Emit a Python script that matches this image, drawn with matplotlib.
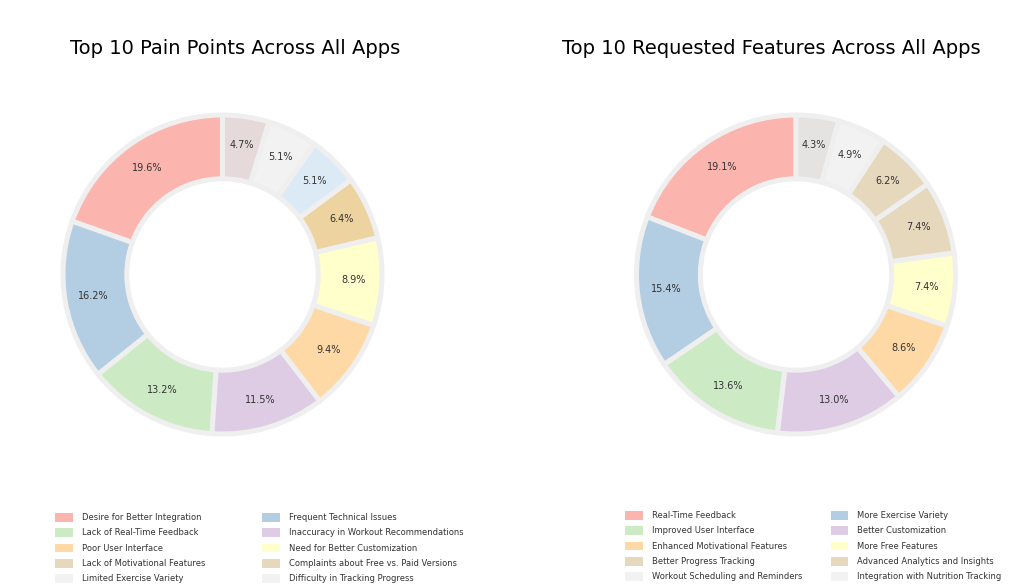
import matplotlib
matplotlib.use("Agg")
import matplotlib.pyplot as plt
from matplotlib.patches import Patch

pain_labels = ['Desire for Better Integration', 'Frequent Technical Issues',
               'Lack of Real-Time Feedback', 'Inaccuracy in Workout Recommendations',
               'Poor User Interface', 'Need for Better Customization',
               'Lack of Motivational Features', 'Complaints about Free vs. Paid Versions',
               'Limited Exercise Variety', 'Difficulty in Tracking Progress']
pain_values = [19.6, 16.2, 13.2, 11.5, 9.4, 8.9, 6.4, 5.1, 5.1, 4.7]
pain_slice_colors = ['#fbb4ae', '#b3cde3', '#ccebc5', '#decbe4', '#fed9a6',
                     '#ffffcc', '#edd3a0', '#dceaf6', '#f2f2f2', '#e6d9d9']

feat_labels = ['Real-Time Feedback', 'More Exercise Variety',
               'Improved User Interface', 'Better Customization',
               'Enhanced Motivational Features', 'More Free Features',
               'Better Progress Tracking', 'Advanced Analytics and Insights',
               'Workout Scheduling and Reminders', 'Integration with Nutrition Tracking']
feat_values = [19.1, 15.4, 13.6, 13.0, 8.6, 7.4, 7.4, 6.2, 4.9, 4.3]
feat_slice_colors = ['#fbb4ae', '#b3cde3', '#ccebc5', '#decbe4', '#fed9a6',
                     '#ffffcc', '#e5d8bd', '#e5d8bd', '#f2f2f2', '#e5e2e2']

legend_colors = ['#fbb4ae', '#b3cde3', '#ccebc5', '#decbe4', '#fed9a6',
                 '#ffffcc', '#e5d8bd', '#e5d8bd', '#f2f2f2', '#f2f2f2']

W, H = 1028, 587
fig = plt.figure(figsize=(W / 100, H / 100), dpi=100)

R = 159.5   # px per unit radius
LIM = 1.1


def pie_axes(cx, cy):
    half = R * LIM
    return fig.add_axes([(cx - half) / W, (H - cy - half) / H, 2 * half / W, 2 * half / H])


def draw(ax, values, colors):
    ax.pie(
        values, colors=colors, startangle=90, counterclock=True,
        autopct='%1.1f%%', pctdistance=0.82, radius=1.0,
        wedgeprops=dict(width=0.4, edgecolor='#efefef', linewidth=3.6, joinstyle='round'),
        textprops=dict(fontsize=7, color='#333333'))
    ax.set_xlim(-LIM, LIM)
    ax.set_ylim(-LIM, LIM)
    ax.set_aspect('equal')
    ax.axis('off')


ax1 = pie_axes(222.5, 274.5)
draw(ax1, pain_values, pain_slice_colors)
ax2 = pie_axes(796, 274.5)
draw(ax2, feat_values, feat_slice_colors)

fig.text(235 / W, 1 - 48 / H, 'Top 10 Pain Points Across All Apps', fontsize=14,
         ha='center', va='center')
fig.text(771 / W, 1 - 48 / H, 'Top 10 Requested Features Across All Apps', fontsize=14,
         ha='center', va='center')

order = [0, 2, 4, 6, 8, 1, 3, 5, 7, 9]


def legend(labels, x, y, colspace):
    handles = [Patch(facecolor=legend_colors[i], edgecolor='none', label=labels[i]) for i in order]
    fig.legend(handles=handles, loc='upper left', bbox_to_anchor=(x / W, 1 - y / H),
               ncol=2, frameon=False, fontsize=6, borderaxespad=0, borderpad=0,
               labelspacing=0.75, handlelength=2.1, handleheight=1.2, handletextpad=1.1,
               columnspacing=colspace, labelcolor='#333333')


legend(pain_labels, 55, 513, 6.85)
legend(feat_labels, 625, 511, 3.45)

fig.savefig('out.png', dpi=100)
